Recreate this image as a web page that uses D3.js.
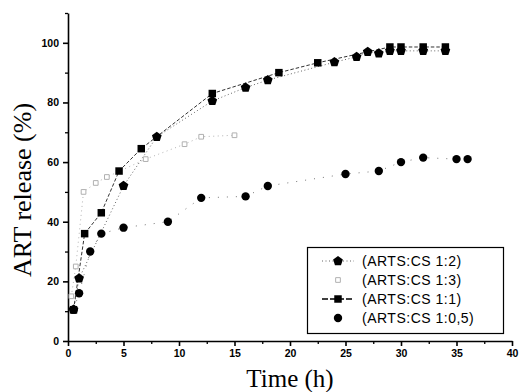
<!DOCTYPE html>
<html>
<head>
<meta charset="utf-8">
<script src="https://cdn.jsdelivr.net/npm/d3@7"></script>
<style>
  html, body { margin: 0; padding: 0; background: #fff; }
  svg { display: block; }
  .tick text { font-family: "Liberation Sans", Arial, sans-serif; font-weight: bold; font-size: 10.5px; fill: #000; }
  .domain, .tick line { stroke: #000; }
</style>
</head>
<body>
<svg id="chart" width="519" height="392"></svg>
<script>
// Release time points (h) and cumulative ART release (%) per formulation
const timeCS1_2 = [0.5, 1, 5, 8, 13, 16, 18, 24, 26, 27, 28, 29, 30, 32, 34];
const relCS1_2  = [10.5, 21, 52, 68.5, 80.5, 85, 87.5, 93.5, 95.3, 97, 96.5, 97.3, 97.3, 97.3, 97.3];

const timeCS1_3 = [0.3, 0.7, 1.4, 2.5, 3.5, 7, 10.5, 12, 15];
const relCS1_3  = [15, 25, 50, 53, 55, 61, 66, 68.5, 69];

const timeCS1_1 = [0.5, 1.5, 3, 4.6, 6.6, 13, 19, 22.5, 29, 30, 32, 34];
const relCS1_1  = [10.5, 36, 43, 57, 64.5, 83, 90, 93.3, 98.6, 98.6, 98.6, 98.6];

const timeCS1_05 = [0.5, 1, 2, 3, 5, 9, 12, 16, 18, 25, 28, 30, 32, 35, 36];
const relCS1_05  = [10.5, 16, 30, 36, 38, 40, 48, 48.5, 52, 56, 57, 60, 61.5, 61, 61];

const seriesNames = ["(ARTS:CS 1:2)", "(ARTS:CS 1:3)", "(ARTS:CS 1:1)", "(ARTS:CS 1:0,5)"];

const xMajorTicks = [0, 5, 10, 15, 20, 25, 30, 35, 40];
const xMinorTicks = [2.5, 7.5, 12.5, 17.5, 22.5, 27.5, 32.5, 37.5];
const yMajorTicks = [0, 20, 40, 60, 80, 100];
const yMinorTicks = [10, 30, 50, 70, 90, 110];

const xLabel = "Time (h)";
const yLabel = "ART release (%)";

// Pentagon marker as a custom d3 symbol type
const symbolPentagon = {
  draw(context, size) {
    const r = Math.sqrt(size / 2.378);
    for (let i = 0; i < 5; i++) {
      const a = -Math.PI / 2 + i * 2 * Math.PI / 5;
      const px = r * Math.cos(a), py = r * Math.sin(a);
      if (i === 0) context.moveTo(px, py); else context.lineTo(px, py);
    }
    context.closePath();
  }
};

const series = [
  { name: seriesNames[0], t: timeCS1_2, v: relCS1_2, symbol: symbolPentagon, size: 62, fill: "#000", stroke: "none",
    line: { color: "#666", width: 1, dash: "1,2.5" } },
  { name: seriesNames[1], t: timeCS1_3, v: relCS1_3, symbol: d3.symbolSquare, size: 22, fill: "#fff", stroke: "#b0b0b0",
    line: { color: "#aaa", width: 0.9, dash: "1,3.5" } },
  { name: seriesNames[2], t: timeCS1_1, v: relCS1_1, symbol: d3.symbolSquare, size: 56, fill: "#000", stroke: "none",
    line: { color: "#333", width: 1, dash: "3.5,2" } },
  { name: seriesNames[3], t: timeCS1_05, v: relCS1_05, symbol: d3.symbolCircle, size: 55, fill: "#000", stroke: "none",
    line: { color: "#777", width: 1, dash: "1,8" } }
];

const svg = d3.select("#chart");

const x = d3.scaleLinear().domain([0, 40]).range([68, 512]);
const y = d3.scaleLinear().domain([0, 110]).range([341, 13]);

// Minor ticks first (no labels)
svg.append("g")
  .attr("transform", `translate(0,${y(0)})`)
  .call(d3.axisBottom(x).tickValues(xMinorTicks).tickSize(3).tickFormat(""))
  .call(g => g.select(".domain").remove())
  .selectAll("line").attr("stroke-width", 1.3);

svg.append("g")
  .attr("transform", `translate(${x(0)},0)`)
  .call(d3.axisLeft(y).tickValues(yMinorTicks).tickSize(3).tickFormat(""))
  .call(g => g.select(".domain").remove())
  .selectAll("line").attr("stroke-width", 1.3);

// Major axes
const xAxis = svg.append("g")
  .attr("transform", `translate(0,${y(0)})`)
  .call(d3.axisBottom(x).tickValues(xMajorTicks).tickSize(5).tickSizeOuter(0).tickPadding(4).tickFormat(d3.format("d")));
xAxis.select(".domain").attr("stroke-width", 1.6);
xAxis.selectAll(".tick line").attr("stroke-width", 1.6);

const yAxis = svg.append("g")
  .attr("transform", `translate(${x(0)},0)`)
  .call(d3.axisLeft(y).tickValues(yMajorTicks).tickSize(5).tickSizeOuter(0).tickPadding(4).tickFormat(d3.format("d")));
yAxis.select(".domain").attr("stroke-width", 1.6);
yAxis.selectAll(".tick line").attr("stroke-width", 1.6);

// Axis titles
svg.append("text")
  .attr("x", 290).attr("y", 387)
  .attr("text-anchor", "middle")
  .attr("font-family", "'Liberation Serif', 'Times New Roman', serif")
  .attr("font-size", 25)
  .text(xLabel);

svg.append("text")
  .attr("transform", `translate(31,190) rotate(-90)`)
  .attr("text-anchor", "middle")
  .attr("font-family", "'Liberation Serif', 'Times New Roman', serif")
  .attr("font-size", 26)
  .text(yLabel);

// Lines and markers
const lineGen = d3.line().x(d => x(d[0])).y(d => y(d[1]));

series.forEach(s => {
  const pts = s.t.map((t, i) => [t, s.v[i]]);
  svg.append("path")
    .datum(pts)
    .attr("d", lineGen)
    .attr("fill", "none")
    .attr("stroke", s.line.color)
    .attr("stroke-width", s.line.width)
    .attr("stroke-dasharray", s.line.dash);
});

// draw markers: open squares underneath, filled ones on top
[1, 3, 0, 2].forEach(k => {
  const s = series[k];
  const sym = d3.symbol().type(s.symbol).size(s.size);
  svg.append("g").selectAll("path")
    .data(s.t.map((t, i) => [t, s.v[i]]))
    .join("path")
    .attr("transform", d => `translate(${x(d[0])},${y(d[1])})`)
    .attr("d", sym)
    .attr("fill", s.fill)
    .attr("stroke", s.stroke)
    .attr("stroke-width", 1);
});

// Legend
const legend = svg.append("g");
legend.append("rect")
  .attr("x", 307.5).attr("y", 247.5)
  .attr("width", 196).attr("height", 86)
  .attr("fill", "#fff").attr("stroke", "#000").attr("stroke-width", 1.2);

const legendY = d3.scalePoint().domain(seriesNames).range([261, 318]);
const legendLineVisible = [true, false, true, false];
series.forEach((s, k) => {
  const ly = legendY(s.name);
  if (legendLineVisible[k]) {
    legend.append("line")
      .attr("x1", 322).attr("x2", 354)
      .attr("y1", ly).attr("y2", ly)
      .attr("stroke", k === 2 ? "#000" : s.line.color)
      .attr("stroke-width", k === 2 ? 1.5 : 1)
      .attr("stroke-dasharray", k === 2 ? "6,2" : s.line.dash);
  }
  legend.append("path")
    .attr("transform", `translate(338,${ly})`)
    .attr("d", d3.symbol().type(s.symbol).size(s.size)())
    .attr("fill", s.fill)
    .attr("stroke", s.stroke);
  legend.append("text")
    .attr("x", 362).attr("y", ly + 5)
    .attr("font-family", "'Liberation Sans', Arial, sans-serif")
    .attr("font-size", 14)
    .attr("letter-spacing", 0.5)
    .text(s.name);
});
</script>
</body>
</html>
